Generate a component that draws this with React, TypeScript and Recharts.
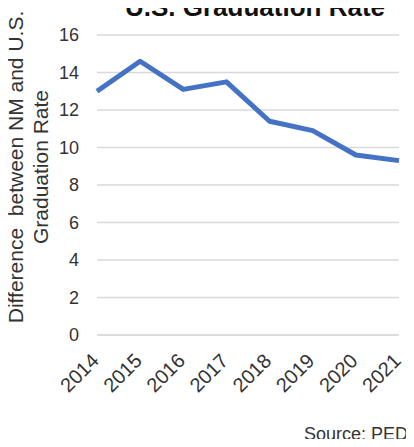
import { LineChart, Line, XAxis, YAxis, CartesianGrid } from "recharts";

// school years and NM vs U.S. graduation-rate gap (percentage points)
const YEARS = ["2014", "2015", "2016", "2017", "2018", "2019", "2020", "2021"];
const GAP = [13.0, 14.6, 13.1, 13.5, 11.4, 10.9, 9.6, 9.3];
const Y_TICKS = [0, 2, 4, 6, 8, 10, 12, 14, 16];

const TITLE = "U.S. Graduation Rate";
const Y_TITLE = ["Difference  between NM and U.S.", "Graduation Rate"];
const SOURCE = "Source: PED";

const FONT = "'Liberation Sans', Arial, sans-serif";
const TEXT = "#333333";

const data = YEARS.map((year, i) => ({ year, gap: GAP[i] }));

// year labels tilted 45°, ending just right of the tick
function YearTick(props: any) {
  const { x, y, payload } = props;
  const tx = x + 3;
  const ty = y + 27;
  return (
    <text
      x={tx}
      y={ty}
      transform={`rotate(-45, ${tx}, ${ty})`}
      textAnchor="end"
      fontSize={20}
      fontFamily={FONT}
      fill={TEXT}
    >
      {payload.value}
    </text>
  );
}

// two-line rotated axis title
function YTitle(props: any) {
  const vb = props.viewBox;
  const cy = vb.y + vb.height / 2 - 18;
  return (
    <g>
      {Y_TITLE.map((line, i) => {
        const bx = vb.x + 23 + i * 25;
        return (
          <text
            key={line}
            x={bx}
            y={cy}
            transform={`rotate(-90, ${bx}, ${cy})`}
            textAnchor="middle"
            fontSize={21}
            fontFamily={FONT}
            fill={TEXT}
            style={{ whiteSpace: "pre" }}
          >
            {line}
          </text>
        );
      })}
    </g>
  );
}

export default function App() {
  return (
    <div
      style={{
        margin: -8,
        position: "relative",
        width: 414,
        height: 447,
        overflow: "hidden",
        background: "#fff",
      }}
    >
      <LineChart
        width={414}
        height={447}
        data={data}
        margin={{ top: 35, right: 15, bottom: 0, left: 0 }}
      >
        <CartesianGrid vertical={false} stroke="#d9d9d9" strokeWidth={1.5} />
        <XAxis
          dataKey="year"
          height={112}
          axisLine={{ stroke: "#d9d9d9", strokeWidth: 1.5 }}
          tickLine={false}
          tickSize={0}
          tickMargin={0}
          interval={0}
          tick={<YearTick />}
        />
        <YAxis
          width={97}
          domain={[0, 16]}
          ticks={Y_TICKS}
          axisLine={false}
          tickLine={false}
          tickSize={0}
          tickMargin={18}
          tick={{ fontSize: 18, fontFamily: FONT, fill: TEXT }}
          label={{ content: <YTitle /> }}
        />
        <Line
          type="linear"
          dataKey="gap"
          stroke="#4472c4"
          strokeWidth={5}
          strokeLinejoin="round"
          dot={false}
          activeDot={false}
          isAnimationActive={false}
        />
      </LineChart>
      <svg
        width={414}
        height={447}
        style={{ position: "absolute", left: 0, top: 0, pointerEvents: "none" }}
      >
        <text
          x={255}
          y={16}
          textAnchor="middle"
          fontSize={26}
          fontWeight="bold"
          fontFamily={FONT}
          fill="#111"
        >
          {TITLE}
        </text>
        <text
          x={408}
          y={440}
          textAnchor="end"
          fontSize={18}
          fontFamily={FONT}
          fill={TEXT}
        >
          {SOURCE}
        </text>
      </svg>
    </div>
  );
}
